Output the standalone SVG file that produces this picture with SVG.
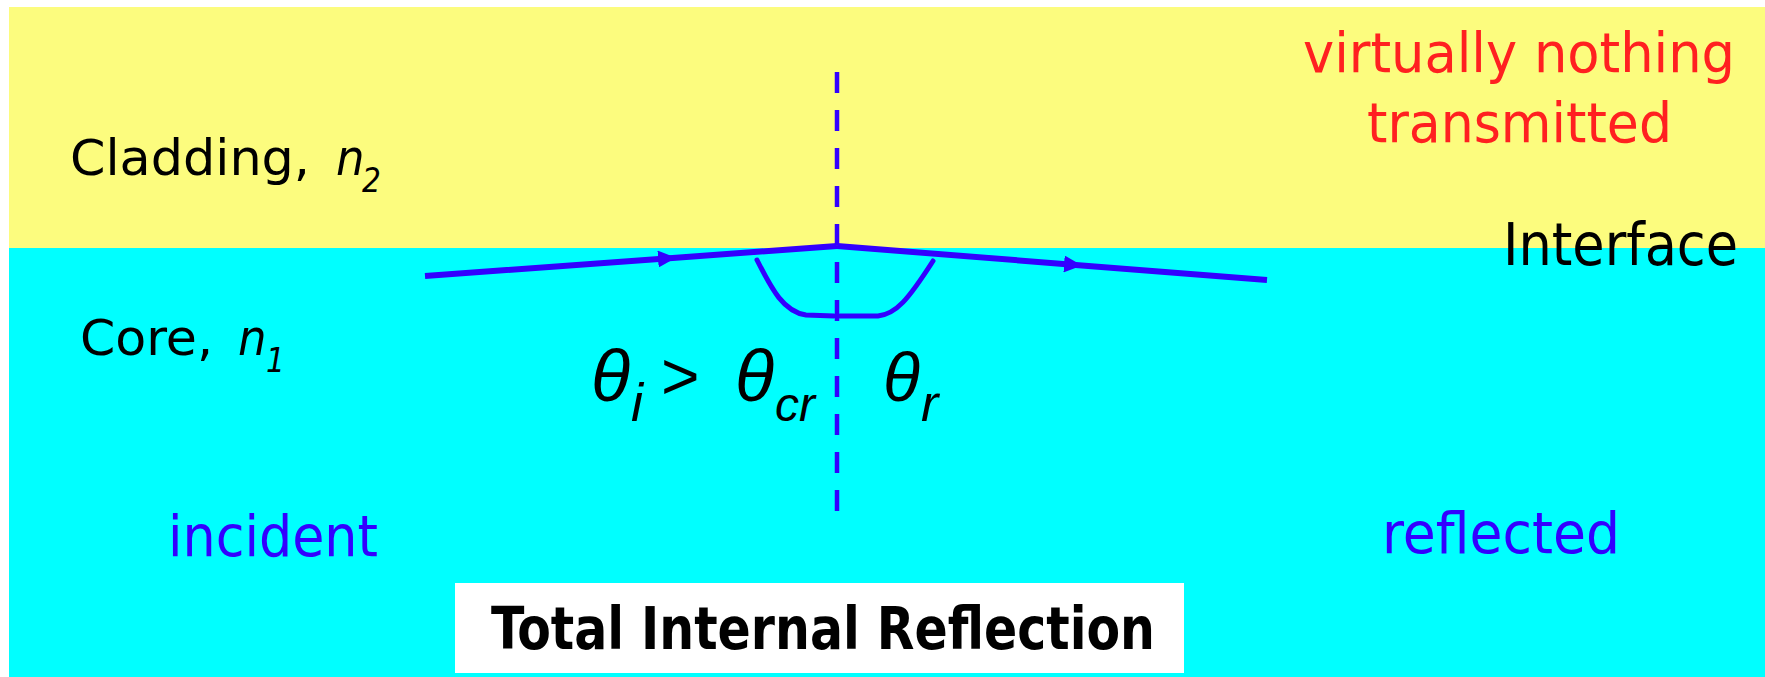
<svg xmlns="http://www.w3.org/2000/svg" width="1765" height="677" viewBox="0 0 1765 677">
  <style>
    .t { font-family: "DejaVu Sans Condensed", "DejaVu Sans", sans-serif; }
    .it { font-style: italic; }
    .m { font-family: "Liberation Sans", Arial, sans-serif; font-style: italic; fill: #000; }
    .ray { fill: none; stroke: #3300FF; stroke-width: 6; stroke-linejoin: round; }
    .arc { fill: none; stroke: #3300FF; stroke-width: 5; stroke-linecap: round; }
    .normal { stroke: #3300FF; stroke-width: 4.5; stroke-dasharray: 21 17; }
  </style>
  <defs>
    <marker id="arrow" markerUnits="userSpaceOnUse" viewBox="0 0 18 17" markerWidth="18" markerHeight="17" refX="18" refY="8.5" orient="auto">
      <path d="M0,0 L18,8.5 L0,17 z" fill="#3300FF"/>
    </marker>
  </defs>

  <rect x="0" y="0" width="1765" height="677" fill="#ffffff"/>
  <g id="cladding">
    <rect x="9" y="7" width="1756" height="241" fill="#FCFC7E"/>
    <text class="t" x="70" y="175" font-size="50" fill="#000" textLength="240" lengthAdjust="spacingAndGlyphs">Cladding,</text>
    <text class="t it" fill="#000"><tspan x="336" y="175" font-size="50">n</tspan><tspan x="362" y="192" font-size="33">2</tspan></text>
  </g>
  <g id="core">
    <rect x="9" y="248" width="1756" height="429" fill="#00FFFF"/>
    <text class="t" x="80" y="355" font-size="50" fill="#000" textLength="133" lengthAdjust="spacingAndGlyphs">Core,</text>
    <text class="t it" fill="#000"><tspan x="238" y="355" font-size="50">n</tspan><tspan x="266" y="372" font-size="33">1</tspan></text>
  </g>
  <g id="transmitted-label">
    <text class="t" x="1303" y="72" font-size="56" fill="#FF2020" textLength="432" lengthAdjust="spacingAndGlyphs">virtually nothing</text>
    <text class="t" x="1367" y="142" font-size="56" fill="#FF2020" textLength="305" lengthAdjust="spacingAndGlyphs">transmitted</text>
  </g>
  <g id="interface-label">
    <text class="t" x="1503" y="265" font-size="59" fill="#000" textLength="235" lengthAdjust="spacingAndGlyphs">Interface</text>
  </g>
  <g id="incident-label">
    <text class="t" x="168" y="556" font-size="57" fill="#3300FF" textLength="210" lengthAdjust="spacingAndGlyphs">incident</text>
  </g>
  <g id="reflected-label">
    <text class="t" x="1382" y="553" font-size="57" fill="#3300FF" textLength="238" lengthAdjust="spacingAndGlyphs">reflected</text>
  </g>

  <g id="connectors">
    <line class="normal" x1="837" y1="72" x2="837" y2="512"/>
    <path class="ray" d="M425,276 L676,257.7 L837,246" marker-mid="url(#arrow)"/>
    <path class="ray" d="M837,246 L1082,265.4 L1267,280" marker-mid="url(#arrow)"/>
    <path class="arc" d="M757,260 C772,290 784,312 806,315 L834,316"/>
    <path class="arc" d="M840,316 L878,316 C896,314 908,300 933,261"/>
  </g>

  <g id="angles">
    <text class="m"><tspan x="591" y="401" font-size="72">θ</tspan><tspan x="631" y="421" font-size="54">i</tspan><tspan x="661" y="399" font-size="66" font-style="normal">&gt;</tspan><tspan x="735" y="401" font-size="72">θ</tspan><tspan x="775" y="421" font-size="48">cr</tspan><tspan x="883" y="401" font-size="68">θ</tspan><tspan x="921" y="421" font-size="52">r</tspan></text>
  </g>

  <g id="title">
    <rect x="455" y="583" width="729" height="90" fill="#ffffff"/>
    <text class="t" x="491" y="649" font-size="58" font-weight="bold" fill="#000" textLength="664" lengthAdjust="spacingAndGlyphs">Total Internal Reflection</text>
  </g>
</svg>
